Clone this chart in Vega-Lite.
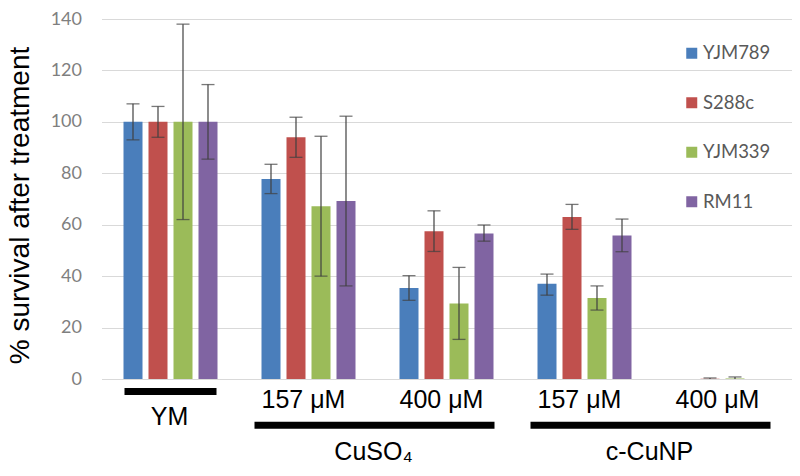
{
  "$schema": "https://vega.github.io/schema/vega-lite/v6.json",
  "width": 690,
  "height": 360,
  "autosize": {"type": "none"},
  "padding": {"left": 101.5, "top": 19, "right": 8.5, "bottom": 97},
  "background": "white",
  "config": {"view": {"stroke": null}},
  "data": {
    "values": [
      {"group": "YM", "strain": "YJM789", "value": 100, "lo": 93, "hi": 107},
      {"group": "YM", "strain": "S288c", "value": 100, "lo": 94, "hi": 106},
      {"group": "YM", "strain": "YJM339", "value": 100, "lo": 62, "hi": 138},
      {"group": "YM", "strain": "RM11", "value": 100, "lo": 85.5, "hi": 114.5},
      {"group": "CuSO4 157", "strain": "YJM789", "value": 77.8, "lo": 72.1, "hi": 83.5},
      {"group": "CuSO4 157", "strain": "S288c", "value": 94, "lo": 86.2, "hi": 101.8},
      {"group": "CuSO4 157", "strain": "YJM339", "value": 67.2, "lo": 40, "hi": 94.4},
      {"group": "CuSO4 157", "strain": "RM11", "value": 69.2, "lo": 36.2, "hi": 102.2},
      {"group": "CuSO4 400", "strain": "YJM789", "value": 35.4, "lo": 30.6, "hi": 40.2},
      {"group": "CuSO4 400", "strain": "S288c", "value": 57.5, "lo": 49.6, "hi": 65.4},
      {"group": "CuSO4 400", "strain": "YJM339", "value": 29.4, "lo": 15.4, "hi": 43.4},
      {"group": "CuSO4 400", "strain": "RM11", "value": 56.6, "lo": 53.6, "hi": 59.9},
      {"group": "c-CuNP 157", "strain": "YJM789", "value": 37, "lo": 32.6, "hi": 40.8},
      {"group": "c-CuNP 157", "strain": "S288c", "value": 63, "lo": 58.2, "hi": 67.9},
      {"group": "c-CuNP 157", "strain": "YJM339", "value": 31.5, "lo": 26.8, "hi": 36.2},
      {"group": "c-CuNP 157", "strain": "RM11", "value": 55.8, "lo": 49.5, "hi": 62.2},
      {"group": "c-CuNP 400", "strain": "YJM789", "value": 0, "lo": 0, "hi": 0},
      {"group": "c-CuNP 400", "strain": "S288c", "value": 0.1, "lo": 0, "hi": 0.4},
      {"group": "c-CuNP 400", "strain": "YJM339", "value": 0.2, "lo": 0, "hi": 0.8},
      {"group": "c-CuNP 400", "strain": "RM11", "value": 0, "lo": 0, "hi": 0}
    ]
  },
  "encoding": {
    "x": {
      "field": "group",
      "type": "nominal",
      "scale": {"domain": ["YM", "CuSO4 157", "CuSO4 400", "c-CuNP 157", "c-CuNP 400"], "paddingInner": 0, "paddingOuter": 0},
      "axis": {
        "title": null,
        "domain": false,
        "ticks": false,
        "grid": false,
        "labelAngle": 0,
        "labelFont": "Liberation Sans",
        "labelFontSize": 25,
        "labelColor": "#000000",
        "labelBaseline": "top",
        "labelExpr": "datum.value == 'YM' ? 'YM' : (indexof(datum.value, '157') >= 0 ? '157 μM' : '400 μM')",
        "labelPadding": {"condition": {"test": "datum.value == 'YM'", "value": 25}, "value": 8},
        "labelOffset": {"condition": {"test": "datum.value == 'YM'", "value": -1}, "value": -5}
      }
    },
    "xOffset": {
      "field": "strain",
      "type": "nominal",
      "sort": ["YJM789", "S288c", "YJM339", "RM11"],
      "scale": {"paddingInner": 0.24, "paddingOuter": 0.88}
    }
  },
  "layer": [
    {
      "mark": {"type": "bar"},
      "encoding": {
        "y": {
          "field": "value",
          "type": "quantitative",
          "scale": {"domain": [0, 140], "nice": false, "zero": true},
          "axis": {
            "values": [0, 20, 40, 60, 80, 100, 120, 140],
            "grid": true,
            "gridColor": "#d9d9d9",
            "gridWidth": 1,
            "domain": false,
            "ticks": false,
            "labelFont": "Lato",
            "labelFontSize": 18,
            "labelColor": "#7f7f7f",
            "labelPadding": 20,
            "title": "% survival after treatment",
            "titleFont": "Liberation Sans",
            "titleFontSize": 28,
            "titleFontWeight": "normal",
            "titleColor": "#000000",
            "titlePadding": 16,
            "titleY": 186
          }
        },
        "color": {
          "field": "strain",
          "type": "nominal",
          "sort": ["YJM789", "S288c", "YJM339", "RM11"],
          "scale": {"domain": ["YJM789", "S288c", "YJM339", "RM11"], "range": ["#4a7ebb", "#c0504d", "#9bbb59", "#8064a2"]},
          "legend": {
            "orient": "none",
            "legendX": 581,
            "legendY": 25,
            "title": null,
            "symbolType": "square",
            "symbolSize": 121,
            "symbolStrokeWidth": 0,
            "labelFont": "Lato",
            "labelFontSize": 18.5,
            "labelColor": "#595959",
            "labelOffset": 2,
            "rowPadding": 30.5
          }
        }
      }
    },
    {
      "mark": {"type": "rule", "color": "#404040", "strokeWidth": 1.2},
      "encoding": {
        "y": {"field": "lo", "type": "quantitative"},
        "y2": {"field": "hi"}
      }
    },
    {
      "transform": [{"filter": "datum.hi > 0"}],
      "mark": {"type": "tick", "color": "#404040", "size": 13, "thickness": 1.3},
      "encoding": {"y": {"field": "hi", "type": "quantitative"}}
    },
    {
      "transform": [{"filter": "datum.lo > 0"}],
      "mark": {"type": "tick", "color": "#404040", "size": 13, "thickness": 1.3},
      "encoding": {"y": {"field": "lo", "type": "quantitative"}}
    },
    {
      "data": {"values": [{"start": "YM", "end": "YM"}]},
      "mark": {"type": "rule", "color": "#000000", "strokeWidth": 7, "xOffset": -46, "x2Offset": 46},
      "encoding": {
        "x": {"field": "start", "type": "nominal"},
        "x2": {"field": "end"},
        "xOffset": null,
        "y": {"datum": -4.9, "type": "quantitative"}
      }
    },
    {
      "data": {"values": [{"label": "CuSO₄", "start": "CuSO4 157", "end": "CuSO4 400"}, {"label": "c-CuNP", "start": "c-CuNP 157", "end": "c-CuNP 400"}]},
      "layer": [
        {
          "mark": {"type": "rule", "color": "#000000", "strokeWidth": 7, "xOffset": -54, "x2Offset": 48},
          "encoding": {
            "x": {"field": "start", "type": "nominal"},
            "x2": {"field": "end"},
            "xOffset": null,
            "y": {"datum": -18, "type": "quantitative"}
          }
        },
        {
          "mark": {"type": "text", "font": "Liberation Sans", "fontSize": 25, "color": "#000000", "baseline": "alphabetic", "align": "center", "dx": -4},
          "encoding": {
            "x": {"field": "end", "type": "nominal", "bandPosition": 0},
            "xOffset": null,
            "y": {"datum": -31.5, "type": "quantitative"},
            "text": {"field": "label"}
          }
        }
      ]
    }
  ]
}
